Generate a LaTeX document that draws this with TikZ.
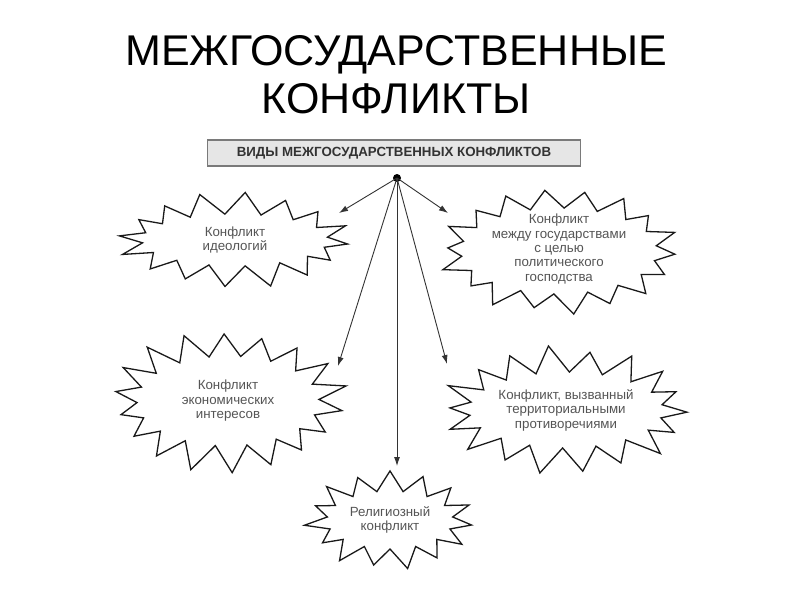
\documentclass[tikz,border=0pt]{standalone}
\usepackage{fontspec}
\setmainfont{Liberation Sans}
\usetikzlibrary{calc,arrows.meta}
\definecolor{txtgray}{HTML}{555555}
\definecolor{hdrfill}{HTML}{E6E6E6}
\definecolor{hdrline}{HTML}{7A7A7A}
\tikzset{
  burstline/.style={draw=black!90, line width=1.3pt, line join=miter, fill=white},
  bursttext/.style={inner sep=0pt, text=txtgray, align=center, font=\fontsize{13.3}{14.5}\selectfont},
  hdr/.style={draw=hdrline, line width=1.3pt, fill=hdrfill, minimum width=373pt,
    minimum height=26pt, inner sep=0pt, font=\bfseries\fontsize{13.3}{15}\selectfont, text=black!80},
  ttl/.style={font=\fontsize{43}{48}\selectfont, align=center, inner sep=0pt},
  conn/.style={draw=black!80, line width=0.9pt, -{Latex[length=9pt,width=6pt]}}
}
% #1 centre coordinate, #2 rx, #3 ry, #4 point depth, #5 points, #6 phase, #7 seed
\newcommand\burstdraw[7]{%
  \draw[burstline] ($(#1)+({#6}:{#2} and {#3})$)
    \foreach \i in {1,...,\numexpr2*#5-1\relax} {
      -- ($(#1)+({#6+\i*180/#5}:{(#2-#4*mod(\i,2))*(1+0.05*sin(\i*#7)*(1-mod(\i,2)))} and {(#3-#4*mod(\i,2))*(1+0.05*sin(\i*#7)*(1-mod(\i,2)))})$)
    } -- cycle;}
\begin{document}
\begin{tikzpicture}[x=1pt,y=-1pt]
\useasboundingbox (0,0) rectangle (800,600);
\fill[white] (0,0) rectangle (800,600);
\node[ttl, anchor=base] (t1) at (396,65) {МЕЖГОСУДАРСТВЕННЫЕ};
\node[ttl, anchor=base] (t2) at (396,113) {КОНФЛИКТЫ};
\node[hdr] (hdr) at (394,153) {ВИДЫ МЕЖГОСУДАРСТВЕННЫХ КОНФЛИКТОВ};
\node[circle, fill=black, inner sep=0pt, minimum size=8pt] (dot) at (397,178) {};

\coordinate (c1) at (235,240);
\coordinate (c2) at (559,251);
\coordinate (c3) at (228,401);
\coordinate (c4) at (566,410);
\coordinate (c5) at (390,520);
\burstdraw{c1}{113}{46}{20}{16}{5}{137}
\burstdraw{c2}{116}{61}{18}{18}{3}{97}
\burstdraw{c3}{115}{69}{24}{18}{8}{151}
\burstdraw{c4}{121}{62}{24}{18}{2}{113}
\burstdraw{c5}{82}{48}{19}{15}{6}{83}

\node[bursttext] (s1) at (c1) {\fontsize{13.3}{17}\selectfont Конфликт\\идеологий};
\node[bursttext] (s2) at ([yshift=2pt]c2)
  {\fontsize{13.3}{13.5}\selectfont Конфликт\\между государствами\\с целью\\политического\\господства};
\node[bursttext] (s3) at (c3) {Конфликт\\экономических\\интересов};
\node[bursttext] (s4) at (c4) {Конфликт, вызванный\\территориальными\\противоречиями};
\node[bursttext] (s5) at (c5) {Религиозный\\конфликт};

\coordinate (e1) at (339,213);
\coordinate (e2) at (448,213);
\coordinate (e3) at (338,366);
\coordinate (e4) at (447,364);
\coordinate (e5) at (397,466);
\foreach \e in {e1,e2,e3,e4,e5} \draw[conn] (dot.center) -- (\e);
\end{tikzpicture}
\end{document}
